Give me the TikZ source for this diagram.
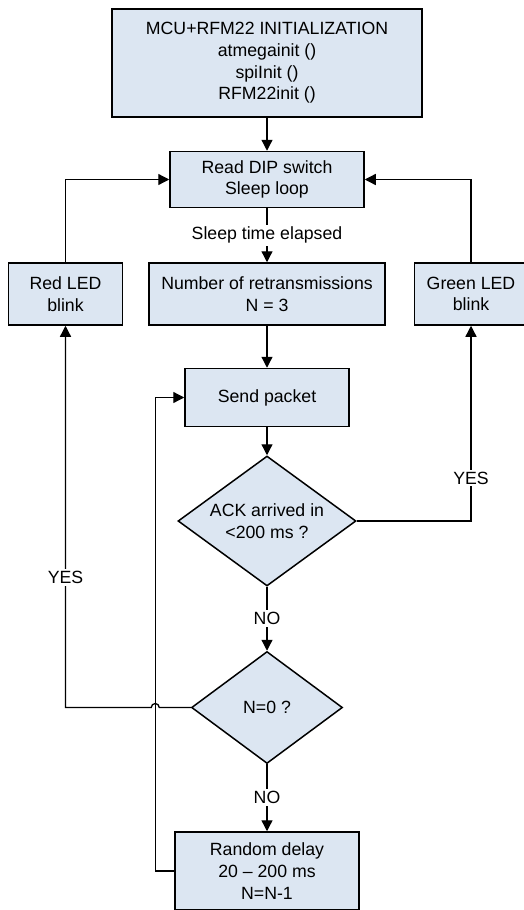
\documentclass[tikz,border=0pt]{standalone}
\usepackage{fontspec}
\setmainfont{Liberation Sans}
\usepackage{tikz}
\usetikzlibrary{arrows.meta, positioning, shapes.geometric, calc}
\definecolor{boxfill}{HTML}{DCE6F2}

\begin{document}
\begin{tikzpicture}[x=1pt, y=-1pt,
  block/.style={rectangle, draw=black, line width=1.5pt, fill=boxfill, align=center, inner sep=2pt, font=\fontsize{17.7}{21.7}\selectfont},
  decision/.style={diamond, aspect=1.37, draw=black, line width=1.5pt, fill=boxfill, align=center, inner sep=0pt, font=\fontsize{17.7}{21.7}\selectfont},
  arrow/.style={-{Triangle[length=11pt, width=11pt]}, line width=1.3pt},
  lbl/.style={fill=white, inner sep=2pt, font=\fontsize{17.7}{21.7}\selectfont}
]
  \path[use as bounding box, clip] (0,0) rectangle (524,910);

  \node[block, minimum width=310pt, minimum height=108pt] (init) at (267,63) {MCU+RFM22 INITIALIZATION\\atmegainit ()\\spiInit ()\\RFM22init ()};
  \node[block, minimum width=194pt, minimum height=56pt, below=33pt of init] (dip) {Read DIP switch\\Sleep loop};
  \node[block, minimum width=236pt, minimum height=62pt, below=54pt of dip] (retx) {Number of retransmissions\\N = 3};
  \node[block, minimum width=114pt, minimum height=62pt, left=25pt of retx] (redled) {Red LED\\blink};
  \node[block, minimum width=113pt, minimum height=62pt, right=28pt of retx] (greenled) {Green LED\\blink};

  \node[block, minimum width=164pt, minimum height=58pt, below=42pt of retx] (send) {Send packet};
  \node[decision, minimum width=178pt, minimum height=130pt, below=28pt of send] (ack) {ACK arrived in\\<200 ms ?};
  \node[decision, minimum width=151pt, minimum height=112pt, below=64pt of ack] (nzero) {N=0 ?};
  \node[block, minimum width=184pt, minimum height=78pt, below=67pt of nzero] (rand) {Random delay\\20 – 200 ms\\N=N-1};
  \coordinate (loopx) at ($(rand.west)+(-19pt,0)$);

  \draw[arrow] (init) -- (dip);
  \draw[arrow] (dip) -- node[lbl] {Sleep time elapsed} (retx);
  \draw[arrow] (retx) -- (send);
  \draw[arrow] (send) -- (ack);
  \draw[arrow] (ack) -- node[lbl] {NO} (nzero);
  \draw[arrow] (nzero) -- node[lbl] {NO} (rand);

  \draw[arrow] (ack.east) -| node[lbl, pos=0.61] {YES} (greenled.south);
  \draw[arrow] (nzero.west) -- ($(nzero.west -| loopx)+(4pt,0)$) arc[start angle=0, end angle=180, radius=4pt] -| node[lbl, pos=0.67] {YES} (redled.south);
  \draw[arrow] (rand.west) -- (loopx) |- (send.west);

  \draw[arrow] (redled.north) |- (dip.west);
  \draw[arrow] (greenled.north) |- (dip.east);
\end{tikzpicture}
\end{document}
